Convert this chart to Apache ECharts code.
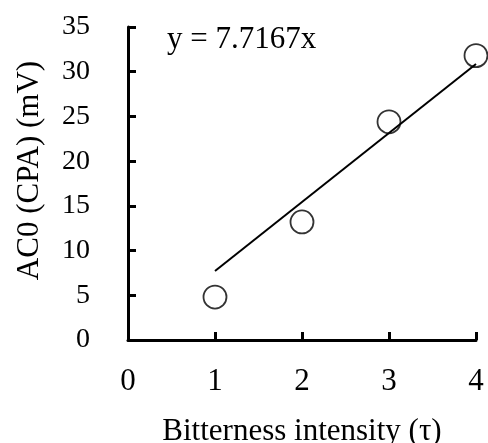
<!DOCTYPE html>
<html>
<head>
<meta charset="utf-8">
<script src="https://cdn.jsdelivr.net/npm/echarts@6/dist/echarts.min.js"></script>
<style>
	html, body { margin: 0; padding: 0; background: #fff; }
	#chart { width: 488px; height: 443px; }
</style>
</head>
<body>
<div id="chart"></div>
<script>
	// measured points
	var xValues = [1, 2, 3, 4];
	var yValues = [4.8, 13.2, 24.4, 31.8];
	// fitted line y = 7.7167x, drawn from x=1 to x=4
	var fitX = [1, 4];
	var fitY = [7.72, 30.87];
	var xTicks = [0, 1, 2, 3, 4];
	var yTicks = [0, 5, 10, 15, 20, 25, 30, 35];

	var font = '"Liberation Serif", "Times New Roman", serif';

	var points = [];
	for (var i = 0; i < xValues.length; i++) {
		points.push([xValues[i], yValues[i]]);
	};
	var fit = [];
	for (var j = 0; j < fitX.length; j++) {
		fit.push([fitX[j], fitY[j]]);
	};

	var chart = echarts.init(document.getElementById('chart'));
	var option = {
		backgroundColor: '#fff',
		animation: false,
		grid: {
			left: 128,
			right: 12,
			top: 27,
			bottom: 103,
			outerBoundsMode: 'none',
			containLabel: false
		},
		xAxis: {
			type: 'value',
			min: xTicks[0],
			max: xTicks[xTicks.length - 1],
			interval: 1,
			name: 'Bitterness intensity (τ)',
			nameLocation: 'middle',
			nameGap: 76,
			nameTextStyle: { fontFamily: font, fontSize: 31, color: '#000' },
			axisLine: { lineStyle: { color: '#000', width: 3 } },
			axisTick: { inside: true, length: 8, lineStyle: { color: '#000', width: 3 } },
			axisLabel: { fontFamily: font, fontSize: 31, color: '#000', margin: 26 },
			splitLine: { show: false }
		},
		yAxis: {
			type: 'value',
			min: yTicks[0],
			max: yTicks[yTicks.length - 1],
			interval: 5,
			name: 'AC0 (CPA) (mV)',
			nameLocation: 'middle',
			nameRotate: 90,
			nameGap: 83,
			nameTextStyle: { fontFamily: font, fontSize: 31, color: '#000', padding: [0, 0, 0, 26] },
			axisLine: { show: true, lineStyle: { color: '#000', width: 3 } },
			axisTick: { show: true, inside: true, length: 8, lineStyle: { color: '#000', width: 3 } },
			axisLabel: { fontFamily: font, fontSize: 28, color: '#000', margin: 38 },
			splitLine: { show: false }
		},
		graphic: [{
			type: 'text',
			left: 167,
			top: 24,
			style: {
				text: 'y = 7.7167x',
				font: '31px ' + font,
				fill: '#000'
			}
		}],
		series: [{
			type: 'line',
			data: fit,
			symbol: 'none',
			lineStyle: { color: '#000', width: 2 },
			z: 2
		}, {
			type: 'scatter',
			data: points,
			symbol: 'circle',
			symbolSize: 23,
			itemStyle: { color: 'rgba(255,255,255,0)', borderColor: '#000', borderWidth: 1.8 },
			z: 3
		}]
	};
	chart.setOption(option);
</script>
</body>
</html>
